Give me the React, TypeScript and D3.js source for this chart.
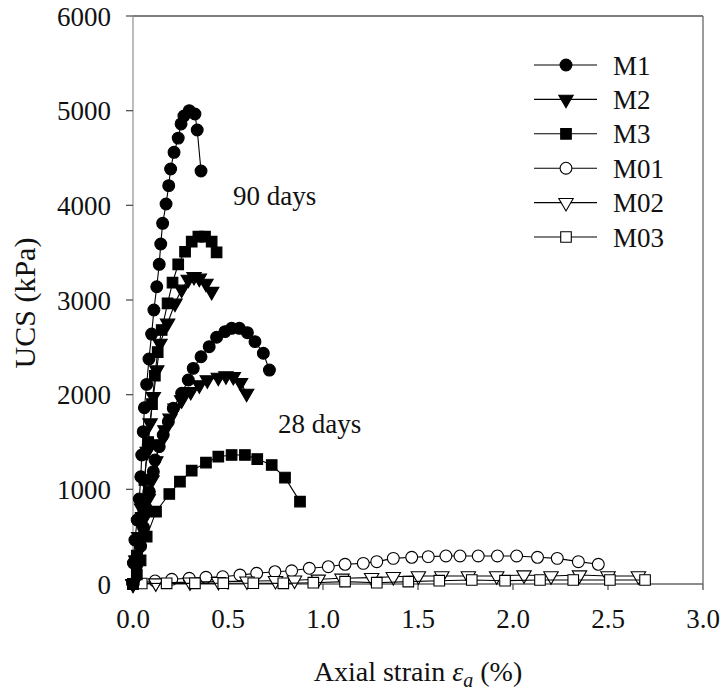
import React from "react";
import * as d3 from "d3";

type P = [number, number];

// strain (%), UCS (kPa)
const M1_90: P[] = [[0,0],[0.002,222],[0.01,465],[0.022,676],[0.033,898],[0.041,1133],[0.046,1363],[0.054,1609],[0.06,1862],[0.072,2109],[0.084,2377],[0.098,2640],[0.11,2894],[0.125,3140],[0.138,3377],[0.146,3591],[0.156,3810],[0.174,4014],[0.188,4208],[0.198,4384],[0.216,4560],[0.238,4710],[0.253,4860],[0.268,4944],[0.296,5000],[0.326,4965],[0.338,4796],[0.358,4363]];
const M2_90: P[] = [[0,0],[0.015,250],[0.03,500],[0.045,800],[0.06,1100],[0.075,1400],[0.09,1700],[0.107,1979],[0.125,2260],[0.142,2542],[0.182,2754],[0.221,2965],[0.256,3113],[0.291,3218],[0.321,3247],[0.349,3229],[0.384,3176],[0.414,3089]];
const M3_90: P[] = [[0,0],[0.02,300],[0.04,700],[0.06,1100],[0.08,1500],[0.1,1900],[0.115,2200],[0.13,2450],[0.151,2683],[0.182,2965],[0.208,3183],[0.238,3377],[0.274,3510],[0.309,3616],[0.344,3669],[0.379,3669],[0.414,3616],[0.44,3504]];
const M1_28: P[] = [[0,0],[0.02,200],[0.04,400],[0.055,600],[0.07,800],[0.086,975],[0.107,1187],[0.116,1310],[0.138,1451],[0.159,1574],[0.186,1715],[0.212,1856],[0.256,2014],[0.291,2155],[0.317,2278],[0.358,2401],[0.401,2507],[0.44,2607],[0.484,2666],[0.519,2701],[0.56,2701],[0.602,2655],[0.642,2560],[0.686,2437],[0.718,2260]];
const M2_28: P[] = [[0,0],[0.02,250],[0.04,480],[0.06,700],[0.08,900],[0.1,1100],[0.12,1300],[0.14,1480],[0.168,1627],[0.195,1750],[0.221,1856],[0.256,1944],[0.304,2032],[0.349,2102],[0.391,2155],[0.449,2183],[0.489,2197],[0.528,2190],[0.566,2127],[0.598,2014]];
const M3_28: P[] = [[0,0],[0.02,100],[0.04,250],[0.072,500],[0.121,764],[0.191,951],[0.247,1081],[0.309,1197],[0.384,1282],[0.449,1345],[0.519,1363],[0.589,1363],[0.654,1320],[0.73,1257],[0.8,1124],[0.879,870]];
const M01: P[] = [[0,0],[0.116,32],[0.204,50],[0.296,60],[0.384,71],[0.472,77],[0.563,95],[0.651,113],[0.747,130],[0.835,140],[0.928,166],[1.028,183],[1.116,208],[1.212,218],[1.283,236],[1.37,271],[1.467,282],[1.554,289],[1.647,296],[1.721,296],[1.817,296],[1.918,296],[2.019,296],[2.129,282],[2.233,271],[2.344,236],[2.449,208]];
const M02: P[] = [[0,0],[0.12,10],[0.3,20],[0.45,25],[0.6,30],[0.75,35],[0.85,40],[0.975,50],[1.1,60],[1.256,67],[1.37,77],[1.502,85],[1.625,85],[1.765,85],[1.914,85],[2.058,95],[2.2,85],[2.35,95],[2.5,85],[2.66,85]];
const M03: P[] = [[0,0],[0.046,5],[0.177,7],[0.326,7],[0.475,8],[0.633,8],[0.791,7],[0.949,14],[1.116,25],[1.283,14],[1.449,25],[1.612,35],[1.783,42],[1.958,35],[2.142,42],[2.317,42],[2.51,42],[2.695,42]];

const legendNames = ["M1", "M2", "M3", "M01", "M02", "M03"];
const xTicks = [0, 0.5, 1, 1.5, 2, 2.5, 3];
const yTicks = [0, 1000, 2000, 3000, 4000, 5000, 6000];

type Kind = "circle" | "tri" | "square";
const styles: { kind: Kind; filled: boolean }[] = [
  { kind: "circle", filled: true },
  { kind: "tri", filled: true },
  { kind: "square", filled: true },
  { kind: "circle", filled: false },
  { kind: "tri", filled: false },
  { kind: "square", filled: false },
];

const seriesList: { data: P[]; style: number }[] = [
  { data: M01, style: 3 },
  { data: M02, style: 4 },
  { data: M03, style: 5 },
  { data: M3_28, style: 2 },
  { data: M2_28, style: 1 },
  { data: M1_28, style: 0 },
  { data: M2_90, style: 1 },
  { data: M3_90, style: 2 },
  { data: M1_90, style: 0 },
];

const FONT = "'Liberation Serif', 'Times New Roman', serif";

function symbolPath(kind: Kind): string {
  if (kind === "circle") return d3.symbol(d3.symbolCircle, 110)() as string;
  if (kind === "square") return d3.symbol(d3.symbolSquare, 112)() as string;
  return d3.symbol(d3.symbolTriangle, 90)() as string;
}

function Marker({ x, y, s }: { x: number; y: number; s: number }) {
  const st = styles[s];
  const rot = st.kind === "tri" ? " rotate(180)" : "";
  return (
    <path
      d={symbolPath(st.kind)}
      transform={`translate(${x},${y})${rot}`}
      fill={st.filled ? "#000" : "#fff"}
      stroke="#000"
      strokeWidth={1.1}
    />
  );
}

export default function App() {
  const W = 721, H = 695;
  const x = d3.scaleLinear().domain([0, 3]).range([133, 703]);
  const y = d3.scaleLinear().domain([0, 6000]).range([584, 16]);
  const line = d3.line<P>().x((d) => x(d[0])).y((d) => y(d[1]));

  return (
    <svg width={W} height={H} style={{ position: "absolute", left: 0, top: 0, background: "#fff" }}>
      {/* frame */}
      <line x1={133} y1={16} x2={703} y2={16} stroke="#555" strokeWidth={1.3} />
      <line x1={703} y1={16} x2={703} y2={584} stroke="#666" strokeWidth={1.3} />
      <line x1={133} y1={16} x2={133} y2={584} stroke="#999" strokeWidth={1.3} />
      <line x1={133} y1={584} x2={703} y2={584} stroke="#666" strokeWidth={1.3} />
      {yTicks.map((t) => (
        <g key={"y" + t}>
          <line x1={126} x2={133} y1={y(t)} y2={y(t)} stroke="#555" strokeWidth={1.3} />
          <text x={111} y={y(t) + 9.5} textAnchor="end" fontFamily={FONT} fontSize={27} fill="#111">
            {t}
          </text>
        </g>
      ))}
      {xTicks.map((t) => (
        <g key={"x" + t}>
          <line x1={x(t)} x2={x(t)} y1={584} y2={590} stroke="#555" strokeWidth={1.3} />
          <text x={x(t)} y={628} textAnchor="middle" fontFamily={FONT} fontSize={27} fill="#111">
            {t.toFixed(1)}
          </text>
        </g>
      ))}
      {/* series */}
      {seriesList.map((s, i) => (
        <g key={"s" + i}>
          <path d={line(s.data) as string} fill="none" stroke="#000" strokeWidth={1.1} />
          {s.data.map((d, j) => (
            <Marker key={j} x={x(d[0])} y={y(d[1])} s={s.style} />
          ))}
        </g>
      ))}
      {/* annotations */}
      <text x={233} y={205} fontFamily={FONT} fontSize={27} fill="#111">90 days</text>
      <text x={278} y={433} fontFamily={FONT} fontSize={27} fill="#111">28 days</text>
      {/* legend */}
      {legendNames.map((n, i) => {
        const ly = 65 + i * 34.4;
        return (
          <g key={n}>
            <line x1={534} x2={597} y1={ly} y2={ly} stroke="#000" strokeWidth={1.1} />
            <Marker x={566} y={ly} s={i} />
            <text x={613} y={ly + 9.5} fontFamily={FONT} fontSize={27} fill="#111">{n}</text>
          </g>
        );
      })}
      {/* axis titles */}
      <text x={418} y={681} textAnchor="middle" fontFamily={FONT} fontSize={28} fill="#111">
        Axial strain <tspan fontStyle="italic">ε</tspan>
        <tspan fontStyle="italic" fontSize={20} dy={6}>a</tspan>
        <tspan dy={-6}> (%)</tspan>
      </text>
      <text transform="translate(35,303) rotate(-90)" textAnchor="middle" fontFamily={FONT} fontSize={30} fill="#111">
        UCS (kPa)
      </text>
    </svg>
  );
}
